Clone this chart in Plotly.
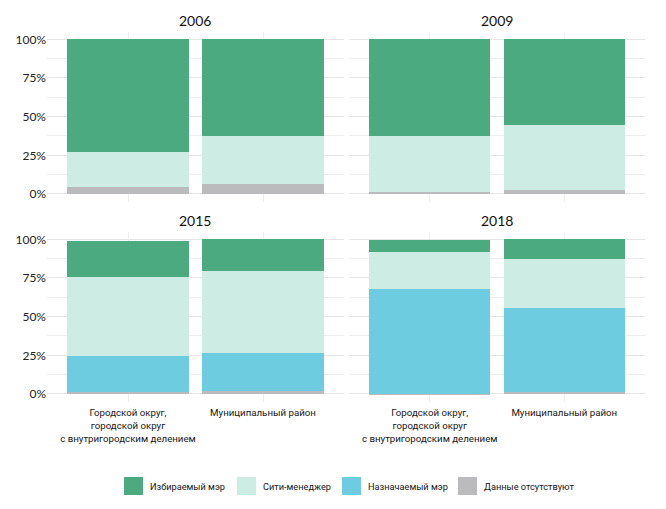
import plotly.graph_objects as go
from plotly.subplots import make_subplots

# ---- data ----
years = ["2006", "2009", "2015", "2018"]
categories = ["Городской округ, городской округ с внутригородским делением", "Муниципальный район"]
category_labels = ["Городской округ,<br>городской округ<br>с внутригородским делением", "Муниципальный район"]

# values ordered: (2006 cat1, 2006 cat2, 2009 cat1, 2009 cat2, 2015 ..., 2018 ...)
no_data = [4.3, 6.7, 1.5, 2.8, 1.3, 1.9, 0.3, 1.5]
appointed_mayor = [0, 0, 0, 0, 23.5, 24.6, 67.5, 53.9]
city_manager = [22.6, 30.6, 36.2, 41.6, 50.6, 53.2, 24.1, 31.9]
elected_mayor = [73.1, 62.7, 62.3, 55.6, 23.7, 20.3, 7.6, 12.7]

series_names = ["Данные отсутствуют", "Назначаемый мэр", "Сити-менеджер", "Избираемый мэр"]
series_values = [no_data, appointed_mayor, city_manager, elected_mayor]
series_colors = ["#BBBBBD", "#6DCCE0", "#CDEDE4", "#4CAA80"]
legend_order = ["Избираемый мэр", "Сити-менеджер", "Назначаемый мэр", "Данные отсутствуют"]

y_tick_vals = [0, 25, 50, 75, 100]
y_tick_text = ["0%", "25%", "50%", "75%", "100%"]

FONT = "Lato"
TFONT = "Roboto"
OFF = 8  # page body margin
W, H = 666 - 2 * OFF, 509 - 2 * OFF

def px_x(v):
    return (v - OFF) / W

def px_y(v):
    return 1 - (v - OFF) / H

fig = make_subplots(rows=2, cols=2)

for yi, year in enumerate(years):
    r, c = yi // 2 + 1, yi % 2 + 1
    for name, vals, col in zip(series_names, series_values, series_colors):
        fig.add_trace(
            go.Bar(
                x=categories,
                y=vals[2 * yi: 2 * yi + 2],
                name=name,
                marker=dict(color=col, line=dict(width=0)),
                showlegend=False,
            ),
            row=r, col=c,
        )

# panel domains in reference pixels
x_doms = [(47, 344), (349, 645)]
y_doms = [(31.6, 201.7), (231.6, 401.7)]

for yi, year in enumerate(years):
    r, c = yi // 2, yi % 2
    idx = "" if yi == 0 else str(yi + 1)
    xd = [px_x(x_doms[c][0]), px_x(x_doms[c][1])]
    yd = [px_y(y_doms[r][1]), px_y(y_doms[r][0])]
    fig.layout["xaxis" + idx].update(
        domain=xd, type="category", categoryarray=categories, categoryorder="array",
        range=[-0.6, 1.6], showgrid=True, gridcolor="#EFEFEF", gridwidth=1,
        zeroline=False, showline=False, ticks="", automargin=False, tickangle=0,
        tickvals=categories, ticktext=category_labels, ticklabelstandoff=4,
        showticklabels=(r == 1),
        tickfont=dict(family=TFONT, size=9.7, color="#151515"),
    )
    fig.layout["yaxis" + idx].update(
        domain=yd, range=[-5, 105], tickvals=y_tick_vals, ticktext=y_tick_text,
        showgrid=True, gridcolor="#E6E6E6", gridwidth=1, zeroline=False,
        showline=False, ticks="", showticklabels=(c == 0), automargin=False,
        tickfont=dict(family=FONT, size=12, color="#222222"),
        minor=dict(dtick=12.5, tick0=0, showgrid=True, gridcolor="#EEEEEE", gridwidth=1),
    )
    fig.add_annotation(
        text=year, xref="paper", yref="paper",
        x=px_x((x_doms[c][0] + x_doms[c][1]) / 2), y=px_y(y_doms[r][0] - 11),
        xanchor="center", yanchor="middle", showarrow=False,
        font=dict(family=FONT, size=14, color="#111111"),
    )

# legend (manual, swatches + text)
legend_x = [124, 237, 342, 458]
sw = 19
ly0, ly1 = 477, 495
for lx, name in zip(legend_x, legend_order):
    col = series_colors[series_names.index(name)]
    fig.add_shape(type="rect", xref="paper", yref="paper",
                  x0=px_x(lx), x1=px_x(lx + sw), y0=px_y(ly1), y1=px_y(ly0),
                  fillcolor=col, line=dict(width=0))
    fig.add_annotation(text=name, xref="paper", yref="paper",
                       x=px_x(lx + sw + 5), y=px_y((ly0 + ly1) / 2),
                       xanchor="left", yanchor="middle", showarrow=False,
                       font=dict(family=TFONT, size=9.2, color="#151515"))

fig.update_layout(
    barmode="stack", bargap=0.1,
    width=W, height=H, margin=dict(l=0, r=0, t=0, b=0),
    plot_bgcolor="white", paper_bgcolor="white",
    showlegend=False,
    font=dict(family=FONT),
)

fig.write_html("out.html")
